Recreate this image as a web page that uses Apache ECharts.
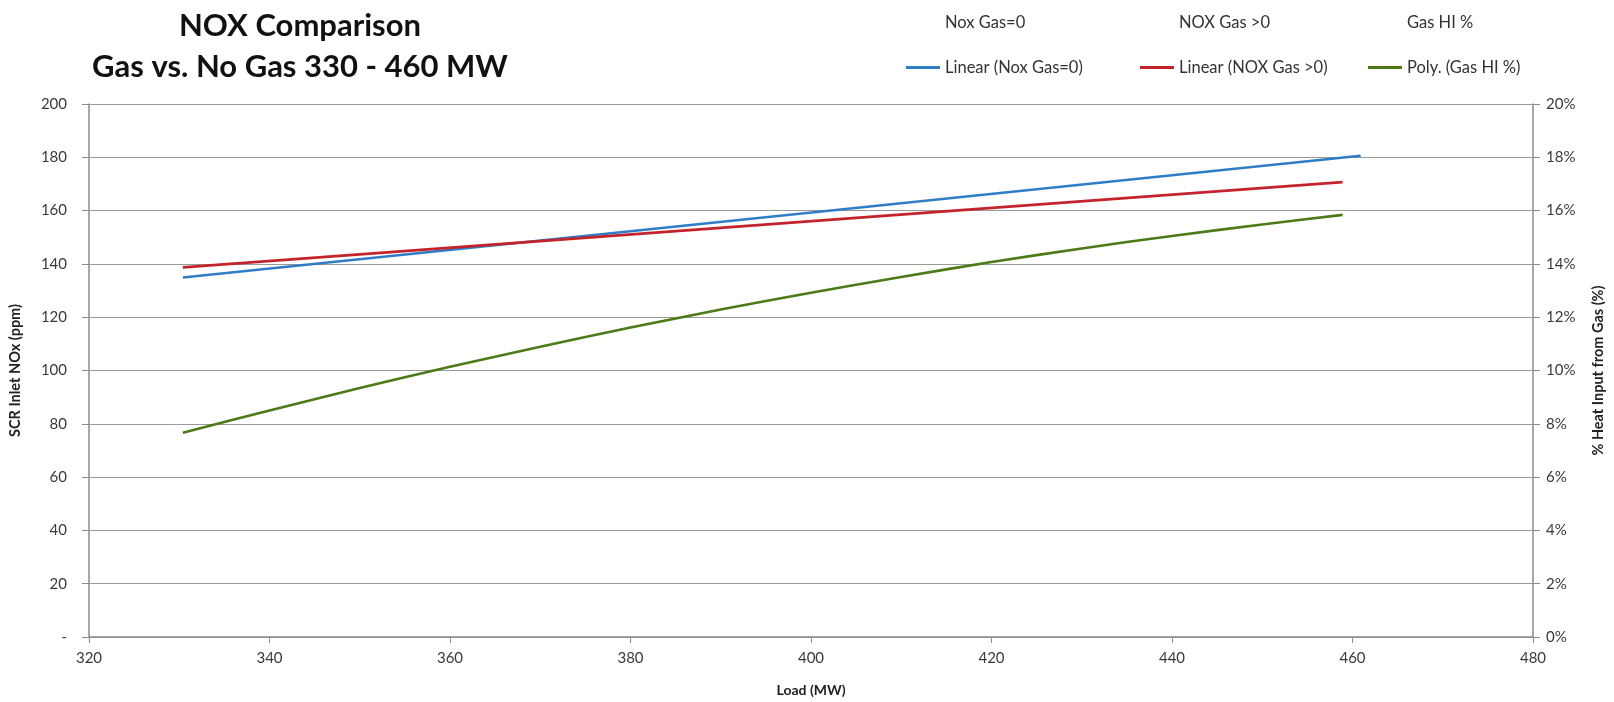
<!DOCTYPE html>
<html>
<head>
<meta charset="utf-8">
<title>NOX Comparison</title>
<script src="https://cdn.jsdelivr.net/npm/echarts@6/dist/echarts.min.js"></script>
<style>
  html, body { margin: 0; padding: 0; background: #fff; }
  #chart { width: 1614px; height: 702px; }
</style>
</head>
<body>
<div id="chart"></div>
<script>
// Trendline for NOx with no gas firing (linear fit, ppm)
const loadNoGas = [330.4, 460.9];
const noxNoGas = [134.9, 180.6];

// Trendline for NOx with gas firing (linear fit, ppm)
const loadWithGas = [330.4, 458.9];
const noxWithGas = [138.7, 170.7];

// Polynomial trendline of gas heat input share (%)
const loadGasHI = [330.4, 340, 350, 360, 370, 380, 390, 400, 410, 420, 430, 440, 450, 458.9];
const gasHIPct = [7.66, 8.50, 9.34, 10.14, 10.89, 11.61, 12.29, 12.92, 13.51, 14.07, 14.58, 15.05, 15.48, 15.84];

// Axis ticks
const xTicks = { min: 320, max: 480, step: 20 };
const noxTicks = { min: 0, max: 200, step: 20 };
const pctTicks = { min: 0, max: 20, step: 2 };

const rawNames = ['Nox Gas=0', 'NOX Gas >0', 'Gas HI %'];
const trendNames = ['Linear (Nox Gas=0)', 'Linear (NOX Gas >0)', 'Poly. (Gas HI %)'];
const colors = ['#2E7DC6', '#C4232B', '#4C7A16'];

const pairs = (xs, ys) => xs.map((x, i) => [x, ys[i]]);

const FONT = 'Lato, "Open Sans", sans-serif';
const labelColor = '#3a3a3a';
const axisGray = '#8c8c8c';

const legendLefts = [906, 1140, 1368];
const legends = [];
rawNames.forEach((n, i) => legends.push({
  data: [{ name: n, icon: 'none' }],
  left: legendLefts[i], top: 14, padding: 0,
  itemWidth: 34, itemHeight: 3, selectedMode: false,
  textStyle: { fontFamily: FONT, fontSize: 16.5, color: '#333' }
}));
trendNames.forEach((n, i) => legends.push({
  data: [{ name: n, icon: 'rect' }],
  left: legendLefts[i], top: 59, padding: 0,
  itemWidth: 34, itemHeight: 3, selectedMode: false,
  textStyle: { fontFamily: FONT, fontSize: 16.5, color: '#333' }
}));

const chart = echarts.init(document.getElementById('chart'));
chart.setOption({
  backgroundColor: '#fff',
  animation: false,
  title: {
    text: 'NOX Comparison\nGas vs. No Gas 330 - 460 MW',
    left: 295, top: 0, textAlign: 'center',
    textStyle: { fontFamily: FONT, fontSize: 31, fontWeight: 'bold', color: '#111', lineHeight: 41 }
  },
  legend: legends,
  grid: { left: 89, right: 76, top: 104, bottom: 64 },
  xAxis: {
    type: 'value', min: xTicks.min, max: xTicks.max, interval: xTicks.step,
    name: 'Load (MW)', nameLocation: 'middle', nameGap: 46,
    nameTextStyle: { fontFamily: FONT, fontSize: 14, fontWeight: 'bold', color: '#222' },
    axisLine: { lineStyle: { color: axisGray, width: 1.5 } },
    axisTick: { show: true, length: 6, lineStyle: { color: axisGray } },
    axisLabel: { fontFamily: FONT, fontSize: 15, color: labelColor, margin: 14 },
    splitLine: { show: false }
  },
  yAxis: [
    {
      type: 'value', min: noxTicks.min, max: noxTicks.max, interval: noxTicks.step,
      name: 'SCR Inlet NOx (ppm)', nameLocation: 'middle', nameGap: 66, nameRotate: 90,
      nameTextStyle: { fontFamily: FONT, fontSize: 14.5, fontWeight: 'bold', color: '#222' },
      axisLine: { show: true, lineStyle: { color: axisGray, width: 1.5 } },
      axisTick: { show: true, length: 7, lineStyle: { color: axisGray } },
      axisLabel: {
        fontFamily: FONT, fontSize: 15, color: labelColor, margin: 22,
        formatter: v => (v === 0 ? '-' : String(v))
      },
      splitLine: { show: true, lineStyle: { color: '#9a9a9a', width: 1.2 } }
    },
    {
      type: 'value', min: pctTicks.min, max: pctTicks.max, interval: pctTicks.step,
      position: 'right',
      name: '% Heat Input from Gas (%)', nameLocation: 'middle', nameGap: 58, nameRotate: 90,
      nameTextStyle: { fontFamily: FONT, fontSize: 14.5, fontWeight: 'bold', color: '#222' },
      axisLine: { show: true, lineStyle: { color: axisGray, width: 1.5 } },
      axisTick: { show: true, length: 7, lineStyle: { color: axisGray } },
      axisLabel: { fontFamily: FONT, fontSize: 15, color: labelColor, margin: 13, formatter: '{value}%' },
      splitLine: { show: false }
    }
  ],
  series: [
    // raw data series are hidden; only their legend entries appear
    { name: rawNames[0], type: 'line', data: [], yAxisIndex: 0 },
    { name: rawNames[1], type: 'line', data: [], yAxisIndex: 0 },
    { name: rawNames[2], type: 'line', data: [], yAxisIndex: 1 },
    {
      name: trendNames[0], type: 'line', yAxisIndex: 0, showSymbol: false,
      data: pairs(loadNoGas, noxNoGas),
      lineStyle: { color: colors[0], width: 2.6 }, itemStyle: { color: colors[0] }
    },
    {
      name: trendNames[1], type: 'line', yAxisIndex: 0, showSymbol: false,
      data: pairs(loadWithGas, noxWithGas),
      lineStyle: { color: colors[1], width: 2.6 }, itemStyle: { color: colors[1] }
    },
    {
      name: trendNames[2], type: 'line', yAxisIndex: 1, showSymbol: false, smooth: 0.3,
      data: pairs(loadGasHI, gasHIPct),
      lineStyle: { color: colors[2], width: 2.6 }, itemStyle: { color: colors[2] }
    }
  ]
});
</script>
</body>
</html>
